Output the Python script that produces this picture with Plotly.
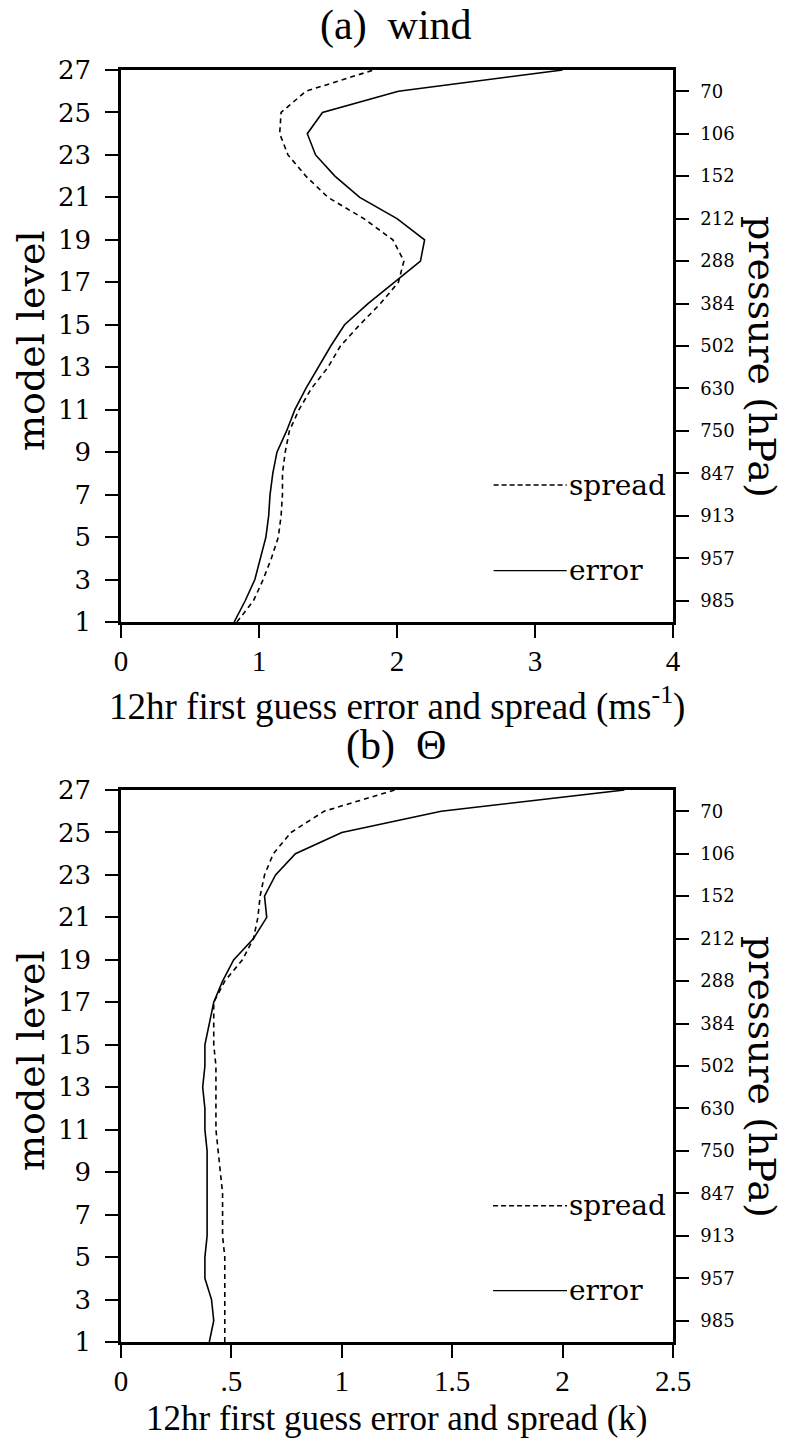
import plotly.graph_objects as go

# ---------------- data ----------------
levels = list(range(1, 28))

wind_error = [0.82, 0.90, 0.97, 1.01, 1.05, 1.07, 1.08, 1.10, 1.13, 1.20, 1.26, 1.34, 1.43,
              1.52, 1.62, 1.79, 1.98, 2.17, 2.20, 2.00, 1.73, 1.55, 1.41, 1.35, 1.46, 2.01, 3.20]
wind_spread = [0.84, 0.96, 1.03, 1.09, 1.14, 1.16, 1.17, 1.17, 1.19, 1.22, 1.29, 1.38, 1.50,
               1.59, 1.73, 1.88, 2.01, 2.05, 1.97, 1.76, 1.50, 1.34, 1.21, 1.15, 1.16, 1.34, 1.83]

theta_error = [0.40, 0.42, 0.41, 0.38, 0.38, 0.39, 0.39, 0.39, 0.39, 0.39, 0.38, 0.38, 0.37,
               0.38, 0.38, 0.40, 0.42, 0.46, 0.51, 0.60, 0.66, 0.65, 0.70, 0.79, 1.00, 1.45, 2.28]
theta_spread = [0.47, 0.47, 0.47, 0.47, 0.47, 0.46, 0.46, 0.46, 0.45, 0.44, 0.43, 0.43, 0.43,
                0.43, 0.42, 0.42, 0.42, 0.47, 0.55, 0.60, 0.62, 0.63, 0.65, 0.69, 0.77, 0.92, 1.24]

left_ticks = [1, 3, 5, 7, 9, 11, 13, 15, 17, 19, 21, 23, 25, 27]
right_ticks = [2, 4, 6, 8, 10, 12, 14, 16, 18, 20, 22, 24, 26]
pressure_labels = ["985", "957", "913", "847", "750", "630", "502", "384", "288", "212", "152", "106", "70"]

wind_xticks = [0, 1, 2, 3, 4]
wind_xlabels = ["0", "1", "2", "3", "4"]
theta_xticks = [0, 0.5, 1, 1.5, 2, 2.5]
theta_xlabels = ["0", ".5", "1", "1.5", "2", "2.5"]

# ---------------- layout helpers ----------------
W, H = 785, 1439
def px(x):
    return x / W
def py(y):
    return 1 - y / H

X0, X1 = 121, 673
A_TOP, A_BOT = 70, 622
B_TOP, B_BOT = 790, 1342

SERIF_W = "Liberation Serif"
SERIF = "DejaVu Serif"

fig = go.Figure()

line_solid = dict(color="black", width=1.6)
line_dash = dict(color="black", width=1.6, dash="5px,4px")

fig.add_trace(go.Scatter(x=wind_error, y=levels, mode="lines", line=line_solid,
                         xaxis="x", yaxis="y", showlegend=False, name="error"))
fig.add_trace(go.Scatter(x=wind_spread, y=levels, mode="lines", line=line_dash,
                         xaxis="x", yaxis="y", showlegend=False, name="spread"))
fig.add_trace(go.Scatter(x=theta_error, y=levels, mode="lines", line=line_solid,
                         xaxis="x2", yaxis="y3", showlegend=False, name="error"))
fig.add_trace(go.Scatter(x=theta_spread, y=levels, mode="lines", line=line_dash,
                         xaxis="x2", yaxis="y3", showlegend=False, name="spread"))
# invisible carriers so the pressure (right) axes are drawn
fig.add_trace(go.Scatter(x=wind_error, y=levels, mode="lines", opacity=0, hoverinfo="skip",
                         line=dict(width=0), xaxis="x", yaxis="y2", showlegend=False))
fig.add_trace(go.Scatter(x=theta_error, y=levels, mode="lines", opacity=0, hoverinfo="skip",
                         line=dict(width=0), xaxis="x2", yaxis="y4", showlegend=False))

common_ax = dict(showgrid=False, zeroline=False, showline=True, linecolor="black", linewidth=2.5,
                 ticks="outside", ticklen=13, tickwidth=2, tickcolor="black", automargin=False)

xfont = dict(family=SERIF_W, size=29, color="black")
yfont = dict(family=SERIF, size=26, color="black")
pfont = dict(family=SERIF, size=18, color="black")

fig.update_layout(
    template="none",
    width=W, height=H, autosize=False,
    margin=dict(l=0, r=0, t=0, b=0, pad=0),
    paper_bgcolor="white", plot_bgcolor="white",
    showlegend=False,
    xaxis=dict(**common_ax, domain=[px(X0), px(X1)], range=[0, 4], anchor="y",
               tickvals=wind_xticks, ticktext=wind_xlabels, tickfont=xfont, mirror=True,
               ticklabelstandoff=-2),
    yaxis=dict(**common_ax, domain=[py(A_BOT), py(A_TOP)], range=[1, 27], anchor="x",
               tickvals=left_ticks, tickfont=yfont, mirror=True, ticklabelstandoff=9),
    yaxis2=dict(**common_ax, domain=[py(A_BOT), py(A_TOP)], range=[1, 27], anchor="x",
                overlaying="y", side="right", tickvals=right_ticks, ticktext=pressure_labels,
                tickfont=pfont, ticklabelstandoff=8),
    xaxis2=dict(**common_ax, domain=[px(X0), px(X1)], range=[0, 2.5], anchor="y3",
                tickvals=theta_xticks, ticktext=theta_xlabels, tickfont=xfont, mirror=True,
                ticklabelstandoff=-2),
    yaxis3=dict(**common_ax, domain=[py(B_BOT), py(B_TOP)], range=[1, 27], anchor="x2",
                tickvals=left_ticks, tickfont=yfont, mirror=True, ticklabelstandoff=9),
    yaxis4=dict(**common_ax, domain=[py(B_BOT), py(B_TOP)], range=[1, 27], anchor="x2",
                overlaying="y3", side="right", tickvals=right_ticks, ticktext=pressure_labels,
                tickfont=pfont, ticklabelstandoff=8),
)

# legend samples (layout shapes in data coordinates)
def legend(xref, yref, xa, xb, ys, ye):
    fig.add_shape(type="line", xref=xref, yref=yref, x0=xa, x1=xb, y0=ys, y1=ys,
                  line=dict(color="black", width=1.4, dash="5px,3px"))
    fig.add_shape(type="line", xref=xref, yref=yref, x0=xa, x1=xb, y0=ye, y1=ye,
                  line=dict(color="black", width=1.4))
    for yy, t in [(ys, "spread"), (ye, "error")]:
        fig.add_annotation(xref=xref, yref=yref, x=xb, y=yy, text=t, showarrow=False,
                           xanchor="left", yanchor="middle", xshift=0,
                           font=dict(family=SERIF, size=28, color="black"))

legend("x", "y", 2.70, 3.23, 7.45, 3.42)
legend("x2", "y3", 1.685, 2.02, 7.42, 3.42)

# titles and axis titles
def ann(x, y, text, size, family, angle=0):
    fig.add_annotation(xref="paper", yref="paper", x=px(x), y=py(y), text=text,
                       showarrow=False, xanchor="center", yanchor="middle", textangle=angle,
                       font=dict(family=family, size=size, color="black"))

ann(396, 25, "(a)\u00a0\u00a0wind", 42, SERIF_W)
ann(396, 745, "(b)\u00a0\u00a0Θ", 42, SERIF_W)
ann(397, 704, "12hr first guess error and spread (ms<sup>-1</sup>)", 37, SERIF_W)
ann(397, 1418, "12hr first guess error and spread (k)", 35, SERIF_W)
ann(31, 341, "model level", 38, SERIF, -90)
ann(31, 1061, "model level", 38, SERIF, -90)
ann(762, 357, "pressure (hPa)", 38, SERIF, 90)
ann(762, 1077, "pressure (hPa)", 38, SERIF, 90)

fig.write_html("out.html", config={"displayModeBar": False},
               post_script="document.body.style.margin='0';document.body.style.overflow='hidden';")
